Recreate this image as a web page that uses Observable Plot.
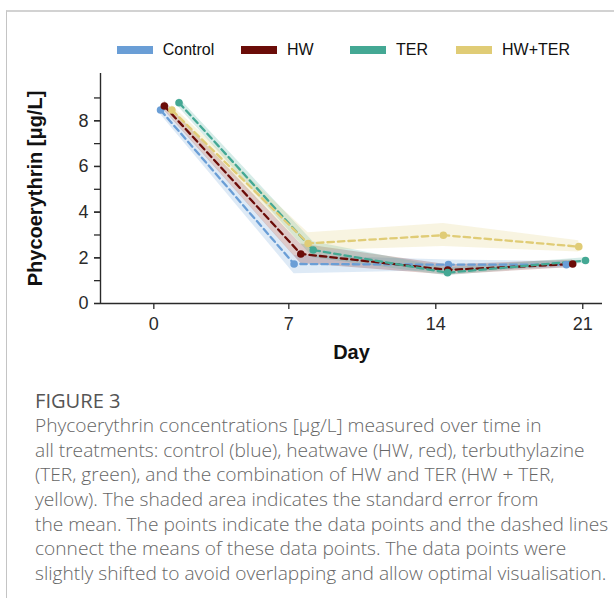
<!DOCTYPE html>
<html>
<head>
<meta charset="utf-8">
<script src="https://cdn.jsdelivr.net/npm/d3@7"></script>
<script src="https://cdn.jsdelivr.net/npm/@observablehq/plot@0.6"></script>
<style>
html, body { margin: 0; padding: 0; background: #fff; }
body { width: 614px; height: 598px; position: relative; overflow: hidden; font-family: "Liberation Sans", Arial, sans-serif; }
#frame { position: absolute; left: 6px; top: 10px; right: -2px; bottom: -2px; border-top: 2px solid #d2d2d2; border-left: 1px solid #c4c4c4; pointer-events: none; }
#legend { position: relative; height: 64px; }
.item { position: absolute; top: 41px; height: 18px; display: flex; align-items: center; font-size: 16px; line-height: 18px; color: #111; white-space: nowrap; }
.sw { width: 36px; height: 8px; margin-right: 10px; }
#chart svg { display: block; }
#caption { padding-left: 35px; padding-top: 14px; color: #666; font-family: "Open Sans", sans-serif; font-weight: 300; }
#caption .fig { color: #555; font-weight: 400; line-height: 25px; height: 25px; }
#caption .ln { white-space: nowrap; line-height: 24.7px; height: 24.7px; }
</style>
</head>
<body>
<div id="frame"></div>
<div id="legend"></div>
<div id="chart"></div>
<div id="caption"></div>
<script>
// ---- data ----
const series = ["Control", "HW", "TER", "HW+TER"];
const colors = ["#6a9ed6", "#6b0c08", "#44a894", "#e0cc76"];
const dayLabels = ["0", "7", "14", "21"];
const dayTickPositions = [0.57, 7, 14, 21];

// shifted x positions (days) of each series' points
const xControl = [0.89, 7.25, 14.60, 20.22];
const xHW      = [1.07, 7.57, 14.57, 20.52];
const xTER     = [1.77, 8.16, 14.56, 21.13];
const xHWTER   = [1.43, 7.92, 14.36, 20.81];

// means
const yControl = [8.47, 1.73, 1.70, 1.70];
const yHW      = [8.65, 2.17, 1.47, 1.73];
const yTER     = [8.79, 2.34, 1.35, 1.88];
const yHWTER   = [8.47, 2.63, 2.99, 2.49];

// standard error band (lower / upper)
const loControl = [8.27, 1.30, 1.45, 1.55];
const hiControl = [8.67, 2.10, 1.90, 1.85];
const loHW      = [8.45, 1.75, 1.25, 1.58];
const hiHW      = [8.88, 2.60, 1.70, 1.90];
const loTER     = [8.58, 2.00, 1.22, 1.76];
const hiTER     = [9.00, 2.70, 1.55, 2.00];
const loHWTER   = [8.27, 2.30, 2.50, 2.25];
const hiHWTER   = [8.67, 3.10, 3.50, 2.75];

const yMinorTicks = [0, 1, 2, 3, 4, 5, 6, 7, 8, 9];
const yMajorTicks = [0, 2, 4, 6, 8];
const xDomain = [-1.97, 21.94];
const yDomain = [0, 10.07];
const xTitle = "Day";
const yTitle = "Phycoerythrin [μg/L]";

const captionTitle = "FIGURE 3";
const captionLines = [
  "Phycoerythrin concentrations [μg/L] measured over time in",
  "all treatments: control (blue), heatwave (HW, red), terbuthylazine",
  "(TER, green), and the combination of HW and TER (HW + TER,",
  "yellow). The shaded area indicates the standard error from",
  "the mean. The points indicate the data points and the dashed lines",
  "connect the means of these data points. The data points were",
  "slightly shifted to avoid overlapping and allow optimal visualisation."
];

// ---- build table ----
const xs = [xControl, xHW, xTER, xHWTER];
const ys = [yControl, yHW, yTER, yHWTER];
const los = [loControl, loHW, loTER, loHWTER];
const his = [hiControl, hiHW, hiTER, hiHWTER];
const rows = [];
series.forEach((s, i) => {
  xs[i].forEach((x, j) => rows.push({series: s, x, y: ys[i][j], lo: los[i][j], hi: his[i][j]}));
});

// ---- legend ----
const legendLefts = [116.7, 241, 350, 456];
const legend = document.getElementById("legend");
series.forEach((s, i) => {
  const it = document.createElement("div");
  it.className = "item";
  it.style.left = legendLefts[i] + "px";
  const sw = document.createElement("span");
  sw.className = "sw";
  sw.style.background = colors[i];
  it.appendChild(sw);
  it.appendChild(document.createTextNode(s));
  legend.appendChild(it);
});

// ---- chart ----
const axisColor = "#2a2a2a";
const chart = Plot.plot({
  width: 614,
  height: 310,
  marginLeft: 100,
  marginRight: 12,
  marginTop: 9,
  marginBottom: 71,
  style: {fontFamily: "'Liberation Sans', Arial, sans-serif", background: "white", color: axisColor},
  x: {domain: xDomain},
  y: {domain: yDomain},
  color: {domain: series, range: colors},
  marks: [
    Plot.area(rows, {x1: "x", y1: "lo", y2: "hi", z: "series", fill: "series", fillOpacity: 0.22}),
    Plot.line(rows, {x: "x", y: "y", z: "series", stroke: "series", strokeWidth: 2.3, strokeDasharray: "6.5,4"}),
    Plot.dot(rows, {x: "x", y: "y", fill: "series", r: 3.8}),
    Plot.ruleY([yDomain[0]], {stroke: axisColor, strokeWidth: 1.4}),
    Plot.ruleX([xDomain[0]], {stroke: axisColor, strokeWidth: 1.4}),
    Plot.axisX(dayTickPositions, {tickFormat: d => dayLabels[dayTickPositions.indexOf(d)], tickSize: 6, tickPadding: 8, fontSize: 18, strokeWidth: 1.3, label: null, color: axisColor}),
    Plot.axisY(yMinorTicks, {tickFormat: () => "", tickSize: 6, strokeWidth: 1.3, label: null, color: axisColor}),
    Plot.axisY(yMajorTicks, {tickSize: 6, tickPadding: 6, fontSize: 18, strokeWidth: 1.3, label: null, color: axisColor}),
    Plot.text([xTitle], {text: d => d, frameAnchor: "bottom", dy: 49, textAnchor: "middle", lineAnchor: "middle", fontWeight: "bold", fontSize: 20, fill: "#111"}),
    Plot.text([yTitle], {text: d => d, frameAnchor: "left", rotate: -90, dx: -65.4, textAnchor: "middle", lineAnchor: "middle", fontWeight: "bold", fontSize: 20, fill: "#111"})
  ]
});
document.getElementById("chart").appendChild(chart);

// ---- caption ----
const cap = document.getElementById("caption");
const ctx = document.createElement("canvas").getContext("2d");
ctx.font = '300 100px "Open Sans"';
const fs = 100 * 550 / ctx.measureText(captionLines[1]).width;
const fig = document.createElement("div");
fig.className = "fig";
fig.style.fontSize = (fs * 1.05) + "px";
fig.textContent = captionTitle;
cap.appendChild(fig);
captionLines.forEach(t => {
  const d = document.createElement("div");
  d.className = "ln";
  d.style.fontSize = fs + "px";
  d.textContent = t;
  cap.appendChild(d);
});
</script>
</body>
</html>
